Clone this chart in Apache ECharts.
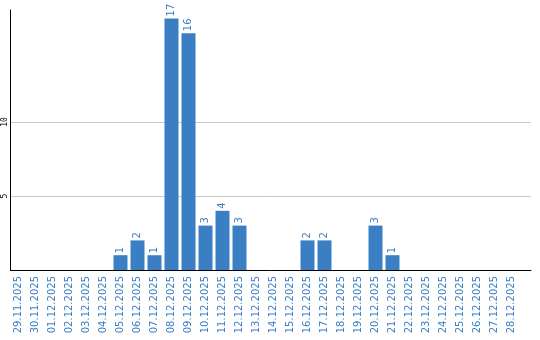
<!DOCTYPE html>
<html><head><meta charset="utf-8">
<script src="https://cdn.jsdelivr.net/npm/echarts@6/dist/echarts.min.js"></script>
<style>html,body{margin:0;padding:0;background:#fff}#c{width:540px;height:340px}</style>
</head><body><div id="c"></div>
<script>
const categories = ["29.11.2025","30.11.2025","01.12.2025","02.12.2025","03.12.2025","04.12.2025","05.12.2025","06.12.2025","07.12.2025","08.12.2025","09.12.2025","10.12.2025","11.12.2025","12.12.2025","13.12.2025","14.12.2025","15.12.2025","16.12.2025","17.12.2025","18.12.2025","19.12.2025","20.12.2025","21.12.2025","22.12.2025","23.12.2025","24.12.2025","25.12.2025","26.12.2025","27.12.2025","28.12.2025"];
const values = [0,0,0,0,0,0,1,2,1,17,16,3,4,3,0,0,0,2,2,0,0,3,1,0,0,0,0,0,0,0];
const yTickLabels = [5,10];
const yMax = 17.57;

const chart = echarts.init(document.getElementById('c'), null, {renderer:'canvas'});
chart.setOption({
  animation:false,
  grid:[
    {left:10,right:20,top:10,bottom:70,containLabel:false},
    {left:10.5,right:9,top:10,bottom:70,containLabel:false}
  ],
  xAxis:[
    {type:'category',data:categories,gridIndex:0,
      axisLine:{show:false},
      axisTick:{show:false},
      axisLabel:{rotate:90,color:'#3a7ec3',fontFamily:'DejaVu Sans',fontSize:10,margin:6,interval:0}
    },
    {type:'value',gridIndex:1,min:0,max:1,
      axisLine:{show:true,onZero:false,lineStyle:{color:'#000',width:1}},
      axisTick:{show:false},axisLabel:{show:false},splitLine:{show:false}
    }
  ],
  yAxis:[
    {type:'value',gridIndex:0,min:0,max:yMax,show:false,splitLine:{show:false}},
    {type:'value',gridIndex:1,min:0,max:yMax,interval:5,
      axisLine:{show:true,lineStyle:{color:'#000',width:1}},
      axisTick:{show:false},
      splitLine:{show:true,lineStyle:{color:['rgba(0,0,0,0)','#c8c8c8','#c8c8c8','rgba(0,0,0,0)','rgba(0,0,0,0)'],width:1}},
      axisLabel:{rotate:90,color:'#000',fontFamily:'DejaVu Sans Mono',fontSize:8,margin:2,
        formatter:v=>yTickLabels.indexOf(v)>=0?String(v):''}
    }
  ],
  series:[{type:'bar',xAxisIndex:0,yAxisIndex:0,data:values,barWidth:14,
    itemStyle:{color:'#3a7ec3'},
    label:{show:true,position:'top',rotate:90,align:'left',verticalAlign:'middle',distance:2,
      color:'#3a7ec3',fontFamily:'DejaVu Sans',fontSize:10,
      formatter:p=>p.value?String(p.value):''}
  }]
});
</script></body></html>
